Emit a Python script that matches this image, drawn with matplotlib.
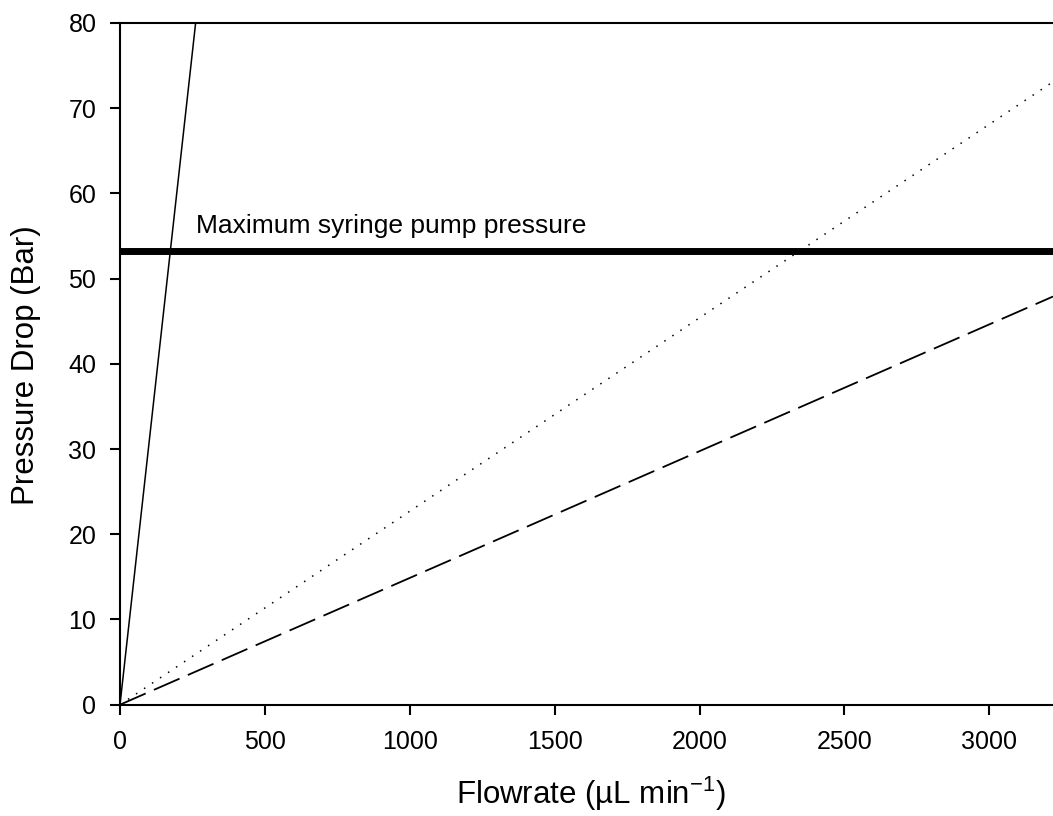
import matplotlib
matplotlib.use("Agg")
import matplotlib.pyplot as plt

plt.rcParams['font.family'] = ['Liberation Sans', 'DejaVu Sans']
plt.rcParams['mathtext.fontset'] = 'custom'
plt.rcParams['mathtext.rm'] = 'Liberation Sans'
plt.rcParams['mathtext.it'] = 'Liberation Sans:italic'

# values
solid_flow = [0, 261]
solid_p = [0, 80]
dotted_flow = [0, 3220]
dotted_p = [0, 73.1]
dashed_flow = [0, 3220]
dashed_p = [0, 47.9]
max_pump_p = 53.3
pump_label = "Maximum syringe pump pressure"

xticks = [0, 500, 1000, 1500, 2000, 2500, 3000]
yticks = [0, 10, 20, 30, 40, 50, 60, 70, 80]

fig = plt.figure(figsize=(10.53, 8.16), dpi=100)
ax = fig.add_axes([120 / 1053, 1 - 704.7 / 816, 1 - 120 / 1053, (704.7 - 23) / 816])

ax.plot(solid_flow, solid_p, color='black', lw=1.1)
ax.plot(dotted_flow, dotted_p, color='black', lw=1.1, dashes=(1.0, 5.3))
ax.plot(dashed_flow, dashed_p, color='black', lw=1.3, dashes=(15.5, 5.0))
ax.axhline(max_pump_p, color='black', lw=5)
ax.text(262, 55.4, pump_label, fontsize=19, va='baseline', ha='left')

ax.set_xlim(0, 3220)
ax.set_ylim(0, 80)
ax.set_xticks(xticks)
ax.set_yticks(yticks)
ax.spines['right'].set_visible(False)
for s in ['left', 'bottom', 'top']:
    ax.spines[s].set_linewidth(1.5)
ax.tick_params(direction='out', length=7, width=1.5, labelsize=18)
ax.tick_params(axis='x', pad=11)
ax.tick_params(axis='y', pad=10)

ax.set_xlabel("Flowrate (µL min$^{-1}$)", fontsize=22.5)
ax.set_ylabel("Pressure Drop (Bar)", fontsize=22.5)
ax.xaxis.label.set_va('baseline')
ax.xaxis.set_label_coords(0.505, -0.146)
ax.yaxis.label.set_va('center')
ax.yaxis.set_label_coords(-0.1007, 0.498)

fig.savefig("out.png", dpi=100)
